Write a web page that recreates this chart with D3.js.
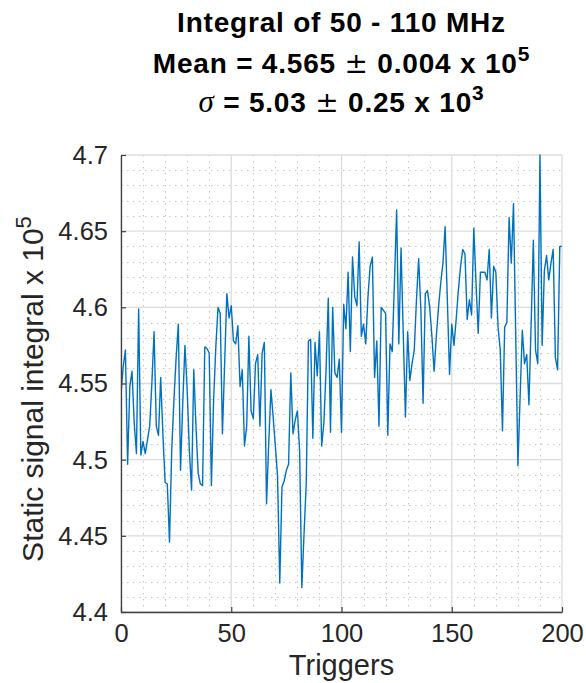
<!DOCTYPE html>
<html><head><meta charset="utf-8">
<script src="https://cdn.jsdelivr.net/npm/d3@7"></script>
<style>body{margin:0;background:#fff} svg{display:block}</style>
</head><body>
<svg id="c" width="586" height="683"></svg>
<script>
// Static signal integral (x 10^5) per trigger, triggers 0..200
const signal = [
4.543,4.561,4.572,4.497,4.548,4.558,4.524,4.504,4.599,4.503,
4.512,4.504,4.513,4.522,4.550,4.584,4.522,4.516,4.554,4.517,
4.485,4.484,4.446,4.506,4.539,4.567,4.589,4.493,4.537,4.575,
4.546,4.506,4.480,4.559,4.522,4.491,4.484,4.483,4.574,4.573,
4.570,4.483,4.539,4.574,4.600,4.596,4.517,4.563,4.609,4.593,
4.601,4.578,4.576,4.588,4.548,4.559,4.509,4.522,4.581,4.532,
4.527,4.563,4.569,4.522,4.570,4.577,4.471,4.511,4.546,4.528,
4.509,4.489,4.419,4.482,4.486,4.493,4.497,4.557,4.517,4.526,
4.532,4.506,4.416,4.451,4.484,4.578,4.579,4.514,4.577,4.555,
4.584,4.509,4.524,4.559,4.606,4.518,4.600,4.557,4.554,4.566,
4.518,4.602,4.586,4.623,4.571,4.633,4.607,4.601,4.643,4.581,
4.589,4.576,4.607,4.627,4.633,4.554,4.578,4.522,4.600,4.598,
4.596,4.516,4.576,4.571,4.616,4.664,4.576,4.639,4.583,4.528,
4.584,4.552,4.563,4.572,4.605,4.632,4.598,4.537,4.609,4.611,
4.600,4.581,4.558,4.581,4.600,4.616,4.629,4.653,4.605,4.556,
4.589,4.575,4.592,4.611,4.627,4.638,4.635,4.592,4.605,4.595,
4.652,4.616,4.583,4.623,4.623,4.623,4.618,4.638,4.593,4.627,
4.623,4.587,4.572,4.519,4.587,4.590,4.659,4.629,4.668,4.583,
4.496,4.541,4.585,4.563,4.569,4.536,4.589,4.644,4.572,4.563,
4.700,4.575,4.624,4.634,4.618,4.629,4.638,4.567,4.559,4.640,
4.640
];
const xTickValues = [0, 50, 100, 150, 200];
const xTickLabels = ["0", "50", "100", "150", "200"];
const yTickValues = [4.4, 4.45, 4.5, 4.55, 4.6, 4.65, 4.7];
const yTickLabels = ["4.4", "4.45", "4.5", "4.55", "4.6", "4.65", "4.7"];
const xDomain = [0, 200];
const yDomain = [4.4, 4.7];

const mLeft = 121, mTop = 155, W = 441, H = 457;
const svg = d3.select("#c");
const x = d3.scaleLinear().domain(xDomain).range([mLeft, mLeft + W]);
const y = d3.scaleLinear().domain(yDomain).range([mTop + H, mTop]);

const sans = "'Liberation Sans', Arial, Helvetica, sans-serif";
const serif = "'Liberation Serif', 'DejaVu Serif', serif";
const pmFont = "'DejaVu Serif', 'Liberation Serif', serif";

// minor grid
const xMinor = d3.range(0, 201, 10).filter(v => v % 50 !== 0);
const yMinor = d3.range(0, 31).filter(k => k % 5 !== 0).map(k => 4.4 + k * 0.01);
const g = svg.append("g");
g.selectAll("line.xm").data(xMinor).join("line")
  .attr("x1", d => Math.round(x(d)) + 0.5).attr("x2", d => Math.round(x(d)) + 0.5)
  .attr("y1", mTop).attr("y2", mTop + H)
  .attr("stroke", "#c6c6c6").attr("stroke-width", 1).attr("stroke-dasharray", "1.5,4.5");
g.selectAll("line.ym").data(yMinor).join("line")
  .attr("y1", d => Math.round(y(d)) + 0.5).attr("y2", d => Math.round(y(d)) + 0.5)
  .attr("x1", mLeft).attr("x2", mLeft + W)
  .attr("stroke", "#c6c6c6").attr("stroke-width", 1).attr("stroke-dasharray", "1.5,4.5");
// major grid
g.selectAll("line.xM").data(xTickValues).join("line")
  .attr("x1", d => x(d)).attr("x2", d => x(d))
  .attr("y1", mTop).attr("y2", mTop + H)
  .attr("stroke", "#dcdcdc").attr("stroke-width", 1.3);
g.selectAll("line.yM").data(yTickValues).join("line")
  .attr("y1", d => y(d)).attr("y2", d => y(d))
  .attr("x1", mLeft).attr("x2", mLeft + W)
  .attr("stroke", "#dcdcdc").attr("stroke-width", 1.3);

// data line
svg.append("defs").append("clipPath").attr("id", "clip")
  .append("rect").attr("x", mLeft).attr("y", mTop - 1).attr("width", W).attr("height", H + 2);
const line = d3.line().x((d, i) => x(i)).y(d => y(d));
svg.append("path").datum(signal)
  .attr("d", line).attr("fill", "none")
  .attr("stroke", "#0072BD").attr("stroke-width", 1.4)
  .attr("stroke-linejoin", "round")
  .attr("clip-path", "url(#clip)");

// axes (left & bottom), ticks inward
const axisColor = "#404040";
const xAxis = d3.axisBottom(x).tickValues(xTickValues).tickFormat((d, i) => xTickLabels[i])
  .tickSizeInner(-5).tickSizeOuter(0).tickPadding(13);
const yAxis = d3.axisLeft(y).tickValues(yTickValues).tickFormat((d, i) => yTickLabels[i])
  .tickSizeInner(-5).tickSizeOuter(0).tickPadding(13);
const gx = svg.append("g").attr("transform", `translate(0,${mTop + H})`).call(xAxis);
const gy = svg.append("g").attr("transform", `translate(${mLeft},0)`).call(yAxis);
[gx, gy].forEach(a => {
  a.select(".domain").attr("stroke", axisColor).attr("stroke-width", 1.3);
  a.selectAll(".tick line").attr("stroke", axisColor).attr("stroke-width", 1.2);
  a.selectAll(".tick text").attr("fill", "#262626")
    .style("font-family", sans).style("font-size", "25.5px");
});
gx.selectAll(".tick text").attr("dy", "0.71em").attr("y", 12);
gy.selectAll(".tick text").attr("dy", "0.33em").attr("x", -13);

// axis labels
svg.append("text").attr("x", x(100)).attr("y", 675)
  .attr("text-anchor", "middle").attr("fill", "#262626")
  .style("font-family", sans).style("font-size", "29px").text("Triggers");
const yl = svg.append("text").attr("transform", `translate(43,${389}) rotate(-90)`)
  .attr("text-anchor", "middle").attr("fill", "#262626")
  .style("font-family", sans).style("font-size", "30px");
yl.append("tspan").text("Static signal integral x 10");
yl.append("tspan").attr("dy", "-12").style("font-size", "22px").text("5");

// title
const cx = mLeft + W / 2;
const tstyle = t => t.attr("x", cx).attr("text-anchor", "middle").attr("fill", "#000")
  .style("font-family", sans).style("font-size", "28px").style("font-weight", "bold")
  .style("letter-spacing", "0.8px");
svg.append("text").attr("y", 32).call(tstyle).text("Integral of 50 - 110 MHz");
const t2 = svg.append("text").attr("y", 73).call(tstyle);
t2.append("tspan").text("Mean = 4.565 ");
t2.append("tspan").style("font-family", pmFont).style("font-weight", "normal").text("±");
t2.append("tspan").text(" 0.004 x 10");
t2.append("tspan").attr("dy", "-12").style("font-size", "21px").text("5");
const t3 = svg.append("text").attr("y", 112).call(tstyle);
t3.append("tspan").style("font-family", serif).style("font-weight", "normal").style("font-style", "italic").style("font-size", "31px").text("σ");
t3.append("tspan").text(" = 5.03 ");
t3.append("tspan").style("font-family", pmFont).style("font-weight", "normal").text("±");
t3.append("tspan").text(" 0.25 x 10");
t3.append("tspan").attr("dy", "-12").style("font-size", "21px").text("3");
</script>
</body></html>
